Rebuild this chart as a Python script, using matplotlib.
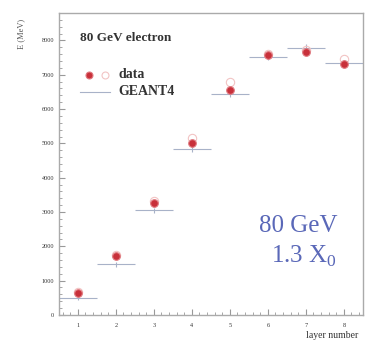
import numpy as np
import matplotlib
matplotlib.use("Agg")
import matplotlib.pyplot as plt
from matplotlib.ticker import MultipleLocator

# Energy per layer, 80 GeV electrons
layers = [1, 2, 3, 4, 5, 6, 7, 8]
data_e = [640, 1710, 3260, 5000, 6570, 7590, 7650, 7300]
data_open = [680, 1760, 3320, 5150, 6800, 7620, 7720, 7470]
geant_e = [500, 1480, 3050, 4850, 6450, 7530, 7790, 7330]
geant_err = [60, 70, 80, 90, 100, 100, 110, 110]
yticks = [0, 1000, 2000, 3000, 4000, 5000, 6000, 7000, 8000]

plt.rcParams['font.family'] = ['Liberation Serif', 'DejaVu Serif']

fig = plt.figure(figsize=(3.68, 3.43), dpi=100)
ax = fig.add_axes([0.160, 0.082, 0.826, 0.880])

# GEANT4 histogram-like bars
ax.errorbar(layers, geant_e, xerr=0.5, yerr=geant_err, fmt='none',
            ecolor='#a8b2c8', elinewidth=0.8, capsize=0, zorder=2)
# data points
ax.plot(layers, data_open, 'o', ms=6, mfc='none', mec='#f2c4c4', mew=0.8, zorder=3)
ax.plot(layers, data_e, 'o', ms=5.5, color='#c8303a', mec='#e07a80', mew=0.8, zorder=4)

ax.set_xlim(0.5, 8.5)
ax.set_ylim(0, 8800)
ax.set_xticks(layers)
ax.set_yticks(yticks)
ax.xaxis.set_minor_locator(MultipleLocator(0.2))
ax.yaxis.set_minor_locator(MultipleLocator(200))
ax.tick_params(which='both', direction='in', color='#999999', labelsize=4.5,
               labelcolor='#333333')
ax.tick_params(which='major', length=4)
ax.tick_params(which='minor', length=2)
ax.tick_params(axis='x', pad=6)
for s in ax.spines.values():
    s.set_color('#aaaaaa')
    s.set_linewidth(1.0)

ax.set_ylabel('E (MeV)', fontsize=6, color='#555555', labelpad=4)
ax.yaxis.set_label_coords(-0.11, 0.93)
ax.set_xlabel('layer number', fontsize=7, color='#333333', labelpad=1)
ax.xaxis.set_label_coords(0.90, -0.055)

# legend-like annotations
ax.text(0.07, 0.917, '80 GeV electron', transform=ax.transAxes, fontsize=9.5,
        fontweight='bold', color='#333333', va='center')
ax.plot([0.099], [0.795], 'o', ms=5, color='#c8303a', mec='#e07a80', mew=0.8,
        transform=ax.transAxes, clip_on=False)
ax.plot([0.152], [0.795], 'o', ms=5, mfc='none', mec='#f2c4c4', mew=0.8,
        transform=ax.transAxes, clip_on=False)
ax.text(0.195, 0.795, 'data', transform=ax.transAxes, fontsize=10,
        fontweight='bold', color='#333333', va='center')
ax.plot([0.07, 0.168], [0.740, 0.740], color='#a8b2c8', lw=0.8, transform=ax.transAxes)
ax.text(0.195, 0.740, 'GEANT4', transform=ax.transAxes, fontsize=10,
        fontweight='bold', color='#333333', va='center')

ax.text(0.915, 0.295, '80 GeV', transform=ax.transAxes, fontsize=18,
        color='#5a68b8', ha='right', va='center')
ax.text(0.915, 0.195, r'1.3 X$_{\mathregular{0}}$', transform=ax.transAxes, fontsize=18,
        color='#5a68b8', ha='right', va='center')

fig.savefig('out.png', dpi=100)
